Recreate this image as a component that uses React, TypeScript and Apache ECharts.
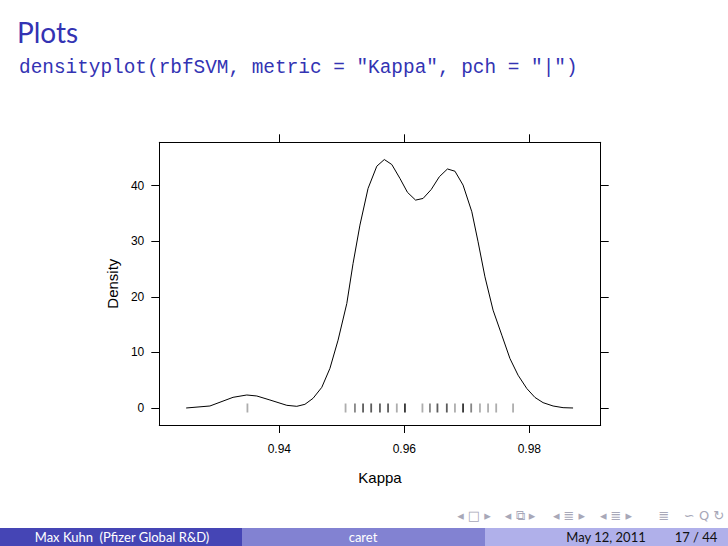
import React, { useEffect, useRef } from "react";
import * as echarts from "echarts";

// Density curve of Kappa (x, density)
const CURVE_X = [
  0.9251, 0.9289, 0.9326, 0.9348, 0.9364, 0.9385, 0.9412, 0.9428, 0.9441, 0.9454,
  0.9468, 0.9481, 0.9494, 0.9508, 0.9518, 0.9529, 0.9542, 0.9556, 0.9568, 0.958,
  0.9593, 0.9605, 0.9618, 0.963, 0.9643, 0.9656, 0.9669, 0.9681, 0.9694, 0.9708,
  0.9718, 0.9729, 0.9742, 0.9756, 0.9769, 0.9782, 0.9796, 0.9809, 0.9822, 0.9838,
  0.9854, 0.987,
];
const CURVE_Y = [
  0.0, 0.36, 1.92, 2.34, 2.16, 1.44, 0.48, 0.3, 0.66, 1.74,
  3.72, 7.13, 12.2, 18.8, 26.0, 32.9, 39.5, 43.5, 44.7, 43.8,
  41.3, 38.8, 37.4, 37.7, 39.3, 41.6, 43.0, 42.6, 40.1, 35.3,
  29.9, 23.6, 17.6, 13.1, 8.9, 5.9, 3.5, 1.9, 0.96, 0.36,
  0.06, 0.0,
];

// Rug of resampled Kappa values (pch = "|"), with overlap counts
const RUG_X = [
  0.9349, 0.9506, 0.9521, 0.9534, 0.9547, 0.9561, 0.9574, 0.9588, 0.9601, 0.9629,
  0.9641, 0.9653, 0.9668, 0.9681, 0.9694, 0.9707, 0.9721, 0.9734, 0.9747, 0.9774,
];
const RUG_COUNT = [1, 1, 2, 3, 3, 3, 3, 1, 4, 1, 2, 3, 3, 1, 4, 2, 1, 1, 1, 1];

const X_TICKS = [0.94, 0.96, 0.98];
const Y_TICKS = [0, 10, 20, 30, 40];
const X_MIN = 0.9208;
const X_MAX = 0.99142;
const Y_MIN = -3.06;
const Y_MAX = 47.8;

const TITLE = "Plots";
const CODE = 'densityplot(rbfSVM, metric = "Kappa", pch = "|")';
const FOOT_AUTHOR = "Max Kuhn  (Pfizer Global R&D)";
const FOOT_TITLE = "caret";
const FOOT_DATE = "May 12, 2011";
const FOOT_PAGE = "17 / 44";
const NAV_GROUPS = ["◂ □ ▸", "◂ ⧉ ▸", "◂ ≣ ▸", "◂ ≣ ▸", "≣", "∽ Q ↻"];

const BLUE = "#3333b3";
const SANS = "Lato, 'DejaVu Sans', sans-serif";
const PLOT_FONT = "'Liberation Sans', Arial, sans-serif";

export default function App() {
  const ref = useRef<HTMLDivElement>(null);

  useEffect(() => {
    if (!ref.current) return;
    const chart = echarts.init(ref.current, undefined, { renderer: "svg" });

    const axisCommon = {
      type: "value" as const,
      axisLine: { show: true, onZero: false, lineStyle: { color: "#000", width: 1 } },
      splitLine: { show: false },
    };
    const tickStyle = (vals: number[]) => ({
      show: true,
      inside: false,
      length: 8,
      customValues: vals,
      lineStyle: { color: "#000", width: 1 },
    });

    const navColor = "#a8a8b8";
    const navX = [474, 520, 569, 616, 664, 704];

    chart.setOption({
      animation: false,
      backgroundColor: "#fff",
      grid: { left: 159.3, top: 142.3, right: 127.3, bottom: 121, containLabel: false },
      xAxis: [
        {
          ...axisCommon,
          min: X_MIN,
          max: X_MAX,
          position: "bottom",
          axisTick: tickStyle(X_TICKS),
          axisLabel: {
            customValues: X_TICKS,
            margin: 18,
            formatter: (v: number) => v.toFixed(2),
            fontSize: 12,
            color: "#000",
            fontFamily: PLOT_FONT,
          },
          name: "Kappa",
          nameLocation: "middle",
          nameGap: 44.5,
          nameTextStyle: { fontSize: 15, color: "#000", fontFamily: PLOT_FONT },
        },
        {
          ...axisCommon,
          min: X_MIN,
          max: X_MAX,
          position: "top",
          axisTick: tickStyle(X_TICKS),
          axisLabel: { show: false },
        },
      ],
      yAxis: [
        {
          ...axisCommon,
          min: Y_MIN,
          max: Y_MAX,
          position: "left",
          axisTick: tickStyle(Y_TICKS),
          axisLabel: {
            customValues: Y_TICKS,
            margin: 15,
            fontSize: 12,
            color: "#000",
            fontFamily: PLOT_FONT,
          },
          name: "Density",
          nameLocation: "middle",
          nameGap: 39,
          nameRotate: 90,
          nameTextStyle: { fontSize: 15, color: "#000", fontFamily: PLOT_FONT },
        },
        {
          ...axisCommon,
          min: Y_MIN,
          max: Y_MAX,
          position: "right",
          axisTick: tickStyle(Y_TICKS),
          axisLabel: { show: false },
        },
      ],
      series: [
        {
          type: "line",
          data: CURVE_X.map((x, i) => [x, CURVE_Y[i]]),
          showSymbol: false,
          symbol: "none",
          smooth: false,
          lineStyle: { color: "#000", width: 1 },
          silent: true,
        },
        {
          type: "scatter",
          symbol: "rect",
          symbolSize: [1.8, 9],
          data: RUG_X.map((x, i) => ({
            value: [x, 0],
            itemStyle: { color: "#333", opacity: Math.min(1, 0.2 + 0.2 * RUG_COUNT[i]) },
          })),
          silent: true,
        },
      ],
      graphic: [
        {
          type: "text",
          left: 17,
          top: 18,
          style: { text: TITLE, fill: BLUE, font: `28px ${SANS}` },
        },
        {
          type: "text",
          left: 19,
          top: 58,
          style: { text: CODE, fill: BLUE, font: `19.4px 'Liberation Mono', 'DejaVu Sans Mono', monospace` },
        },
        // footer bars
        { type: "rect", shape: { x: 0, y: 528, width: 242, height: 18 }, style: { fill: "#4545b5" } },
        { type: "rect", shape: { x: 242, y: 528, width: 243, height: 18 }, style: { fill: "#8282d2" } },
        { type: "rect", shape: { x: 485, y: 528, width: 243, height: 18 }, style: { fill: "#b0b0ea" } },
        {
          type: "text",
          x: 122,
          y: 537,
          style: { text: FOOT_AUTHOR, fill: "#fff", font: `13px ${SANS}`, align: "center", verticalAlign: "middle" },
        },
        {
          type: "text",
          x: 363,
          y: 537,
          style: { text: FOOT_TITLE, fill: "#fff", font: `13px ${SANS}`, align: "center", verticalAlign: "middle" },
        },
        {
          type: "text",
          x: 606,
          y: 537,
          style: { text: FOOT_DATE, fill: "#111", font: `13px ${SANS}`, align: "center", verticalAlign: "middle" },
        },
        {
          type: "text",
          x: 696,
          y: 537,
          style: { text: FOOT_PAGE, fill: "#111", font: `13px ${SANS}`, align: "center", verticalAlign: "middle" },
        },
        // navigation symbols
        ...NAV_GROUPS.map((t, i) => ({
          type: "text",
          x: navX[i],
          y: 515,
          style: { text: t, fill: navColor, font: "13px 'DejaVu Sans'", align: "center", verticalAlign: "middle" },
        })),
      ],
    });

    return () => chart.dispose();
  }, []);

  return (
    <div
      ref={ref}
      style={{ position: "absolute", left: 0, top: 0, width: 728, height: 546, background: "#fff" }}
    />
  );
}
